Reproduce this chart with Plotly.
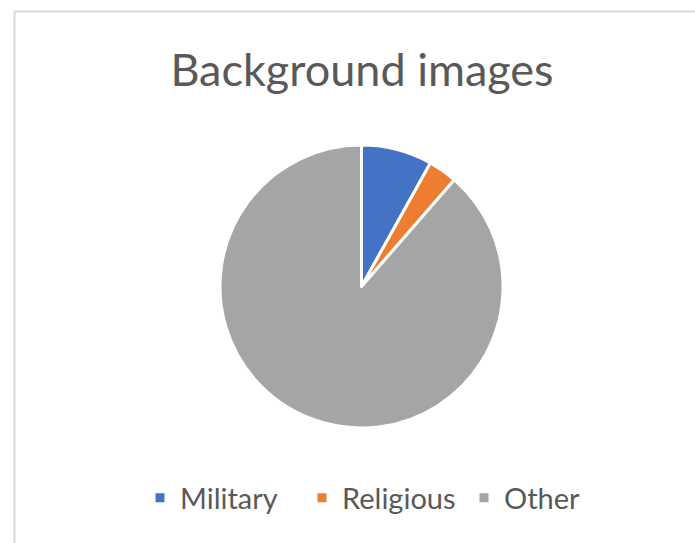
import plotly.graph_objects as go

labels = ["Military", "Religious", "Other"]
values = [8.1, 3.3, 88.6]
colors = ["#4472C4", "#ED7D31", "#A5A5A5"]

W, H = 695, 543
cx, cy, r = 361.5, 286.5, 141.5

fig = go.Figure(go.Pie(
    labels=labels,
    values=values,
    sort=False,
    direction="clockwise",
    rotation=0,
    marker=dict(colors=colors, line=dict(color="white", width=3)),
    textinfo="none",
    hoverinfo="label+percent",
    domain=dict(x=[(cx - r) / W, (cx + r) / W], y=[(H - cy - r) / H, (H - cy + r) / H]),
))

fig.update_layout(
    width=W, height=H,
    margin=dict(l=0, r=0, t=0, b=0),
    paper_bgcolor="white",
    plot_bgcolor="white",
    font=dict(family="Lato", color="#595959"),
    title=dict(text="Background images", x=362 / W, xanchor="center",
               y=1 - 70 / H, yanchor="middle",
               font=dict(family="Lato", size=45, color="#595959")),
    showlegend=True,
    legend=dict(orientation="h", x=140 / W, xanchor="left", y=1 - 498 / H, yanchor="middle",
                entrywidth=117, entrywidthmode="pixels",
                font=dict(family="Lato", size=29, color="#595959"),
                traceorder="normal"),
    shapes=[
        dict(type="line", xref="paper", yref="paper", x0=14 / W, x1=1, y0=1 - 11.5 / H, y1=1 - 11.5 / H,
             line=dict(color="#D9D9D9", width=2)),
        dict(type="line", xref="paper", yref="paper", x0=14.5 / W, x1=14.5 / W, y0=0, y1=1 - 11 / H,
             line=dict(color="#D9D9D9", width=2)),
    ],
)

fig.write_html("out.html")
